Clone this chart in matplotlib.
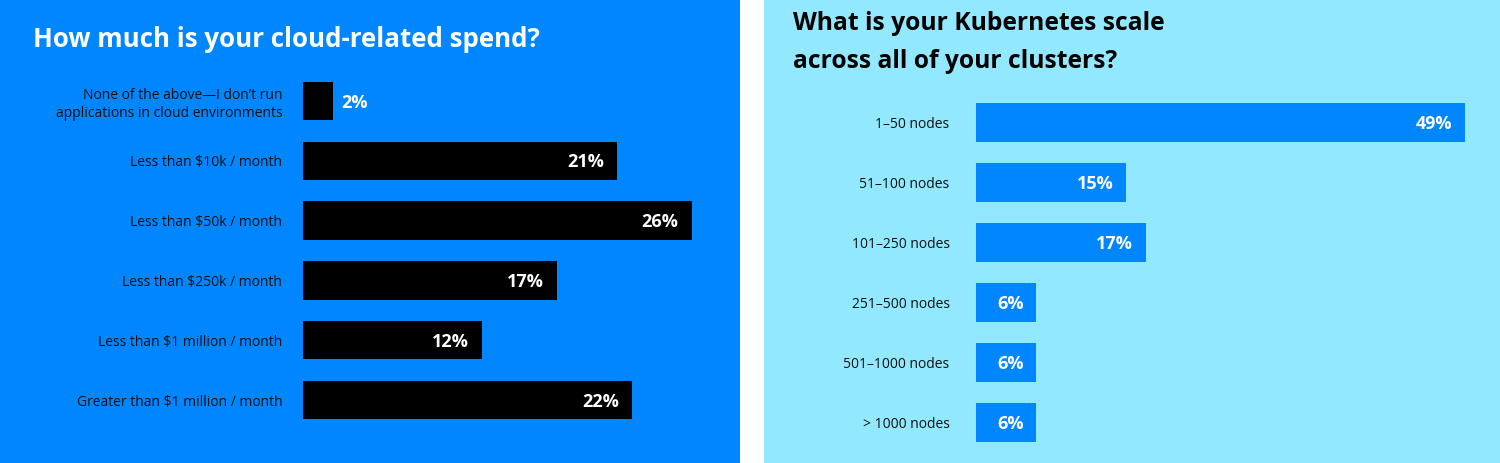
import matplotlib
matplotlib.use("Agg")
import matplotlib.pyplot as plt
from matplotlib.patches import Rectangle

# Data
spend_categories = [
    "None of the above\u2014I don\u2019t run\napplications in cloud environments",
    "Less than $10k / month",
    "Less than $50k / month",
    "Less than $250k / month",
    "Less than $1 million / month",
    "Greater than $1 million / month",
]
spend_values = [2, 21, 26, 17, 12, 22]

scale_categories = [
    "1\u201350 nodes",
    "51\u2013100 nodes",
    "101\u2013250 nodes",
    "251\u2013500 nodes",
    "501\u20131000 nodes",
    "> 1000 nodes",
]
scale_values = [49, 15, 17, 6, 6, 6]

left_title = "How much is your cloud-related spend?"
right_title = "What is your Kubernetes scale\nacross all of your clusters?"

BLUE = "#0086ff"
CYAN = "#92e9ff"
DARK = "#111111"

W, H = 1500, 463
fig = plt.figure(figsize=(W / 100, H / 100), dpi=100)
fig.patch.set_facecolor("white")

# panel backgrounds
fig.patches.append(Rectangle((0, 0), 740 / W, 1, transform=fig.transFigure,
                             facecolor=BLUE, edgecolor="none", zorder=-5))
fig.patches.append(Rectangle((764 / W, 0), (W - 764) / W, 1, transform=fig.transFigure,
                             facecolor=CYAN, edgecolor="none", zorder=-5))

TITLE_FONT = "Open Sans"
LABEL_FONT = "Open Sans"


def px_axes(x0, x1, ytop, ybot):
    return fig.add_axes([x0 / W, 1 - ybot / H, (x1 - x0) / W, (ybot - ytop) / H])


def style(ax, cats, pad):
    ax.set_facecolor("none")
    ax.patch.set_visible(False)
    for s in ax.spines.values():
        s.set_visible(False)
    ax.set_xticks([])
    ax.set_yticks(range(len(cats)))
    ax.set_yticklabels(cats, fontsize=10, color=DARK, family=LABEL_FONT,
                       linespacing=1.25)
    ax.tick_params(axis="y", length=0, pad=pad)
    ax.set_ylim(len(cats) - 0.5, -0.5)


# Left chart
axL = px_axes(303, 740, 71, 430)
axL.barh(range(len(spend_values)), spend_values, height=0.64, color="black")
axL.set_xlim(0, 437 / 14.95)
style(axL, spend_categories, 15)
for i, v in enumerate(spend_values):
    if v < 5:
        axL.annotate(f"{v}%", (v, i), xytext=(6, -1.2), textcoords="offset points",
                     ha="left", va="center", color="white", fontsize=13,
                     fontweight="bold", family=TITLE_FONT)
    else:
        axL.annotate(f"{v}%", (v, i), xytext=(-9.5, -1.2), textcoords="offset points",
                     ha="right", va="center", color="white", fontsize=13,
                     fontweight="bold", family=TITLE_FONT)

fig.text(33 / W, 1 - 47 / H, left_title, ha="left", va="baseline", color="white",
         fontsize=18.6, fontweight="bold", family=TITLE_FONT)

# Right chart
axR = px_axes(976, 1500, 92, 452)
axR.barh(range(len(scale_values)), scale_values, height=0.65, color=BLUE)
axR.set_xlim(0, 524 / 9.98)
style(axR, scale_categories, 19)
for i, v in enumerate(scale_values):
    axR.annotate(f"{v}%", (v, i), xytext=(-9, -1.2), textcoords="offset points",
                 ha="right", va="center", color="white", fontsize=13,
                 fontweight="bold", family=TITLE_FONT)

fig.text(793 / W, 1 - 68 / H, right_title, ha="left", va="baseline", color="black",
         fontsize=17.7, fontweight="bold", family=TITLE_FONT, linespacing=1.7)

fig.savefig("out.png", dpi=100, facecolor=fig.get_facecolor())
